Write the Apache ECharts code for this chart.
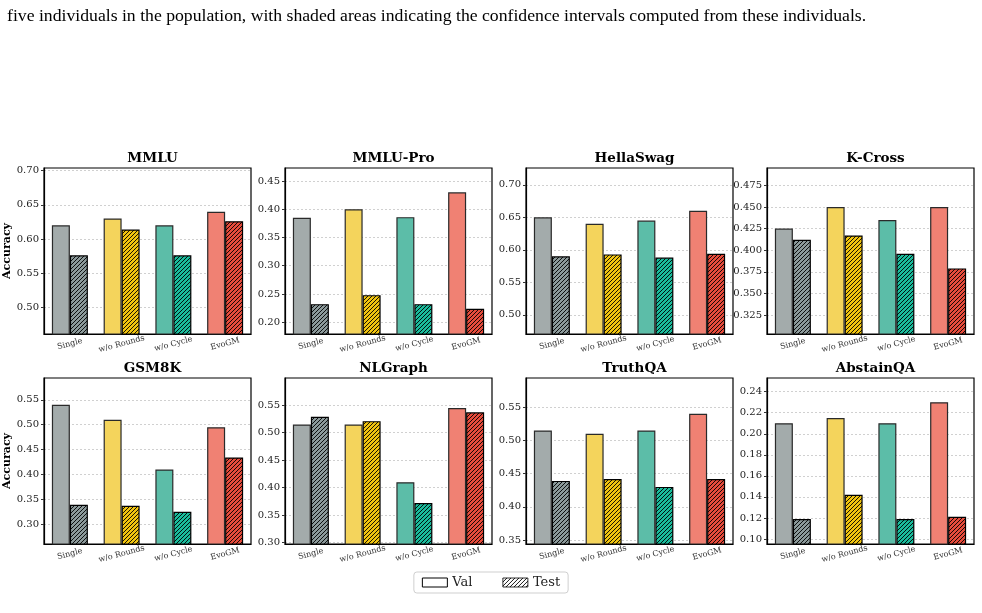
<!DOCTYPE html>
<html><head><meta charset="utf-8">
<script src="https://cdn.jsdelivr.net/npm/echarts@6/dist/echarts.min.js"></script>
<style>html,body{margin:0;padding:0;background:#fff;}#c{width:982px;height:613px;}</style>
</head><body><div id="c"></div>
<script>
const categories = ['Single', 'w/o Rounds', 'w/o Cycle', 'EvoGM'];
const datasets = ['MMLU', 'MMLU-Pro', 'HellaSwag', 'K-Cross', 'GSM8K', 'NLGraph', 'TruthQA', 'AbstainQA'];

const valMMLU = [0.620, 0.630, 0.620, 0.640];
const testMMLU = [0.576, 0.614, 0.576, 0.626];
const valMMLUPro = [0.385, 0.400, 0.386, 0.430];
const testMMLUPro = [0.232, 0.248, 0.232, 0.224];
const valHellaSwag = [0.650, 0.640, 0.645, 0.660];
const testHellaSwag = [0.590, 0.593, 0.588, 0.594];
const valKCross = [0.425, 0.450, 0.435, 0.450];
const testKCross = [0.412, 0.417, 0.396, 0.379];
const valGSM8K = [0.540, 0.510, 0.410, 0.495];
const testGSM8K = [0.339, 0.337, 0.325, 0.434];
const valNLGraph = [0.515, 0.515, 0.410, 0.545];
const testNLGraph = [0.529, 0.521, 0.372, 0.537];
const valTruthQA = [0.515, 0.510, 0.515, 0.540];
const testTruthQA = [0.439, 0.442, 0.430, 0.442];
const valAbstainQA = [0.210, 0.215, 0.210, 0.230];
const testAbstainQA = [0.119, 0.142, 0.119, 0.121];

const valSeries = [valMMLU, valMMLUPro, valHellaSwag, valKCross, valGSM8K, valNLGraph, valTruthQA, valAbstainQA];
const testSeries = [testMMLU, testMMLUPro, testHellaSwag, testKCross, testGSM8K, testNLGraph, testTruthQA, testAbstainQA];

// y tick labels per panel
const ticksMMLU = ['0.50', '0.55', '0.60', '0.65', '0.70'];
const ticksMMLUPro = ['0.20', '0.25', '0.30', '0.35', '0.40', '0.45'];
const ticksHellaSwag = ['0.50', '0.55', '0.60', '0.65', '0.70'];
const ticksKCross = ['0.325', '0.350', '0.375', '0.400', '0.425', '0.450', '0.475'];
const ticksGSM8K = ['0.30', '0.35', '0.40', '0.45', '0.50', '0.55'];
const ticksNLGraph = ['0.30', '0.35', '0.40', '0.45', '0.50', '0.55'];
const ticksTruthQA = ['0.35', '0.40', '0.45', '0.50', '0.55'];
const ticksAbstainQA = ['0.10', '0.12', '0.14', '0.16', '0.18', '0.20', '0.22', '0.24'];
const tickLabels = [ticksMMLU, ticksMMLUPro, ticksHellaSwag, ticksKCross, ticksGSM8K, ticksNLGraph, ticksTruthQA, ticksAbstainQA];

const valColors = ['#a3abab', '#f4d45c', '#5cbda8', '#f08173'];
const testColors = ['#8c9a9b', '#f1c40f', '#1abc9c', '#e74c3c'];

const caption = 'five individuals in the population, with shaded areas indicating the confidence intervals computed from these individuals.';

function hatch(base) {
  const s = 4;
  const c = document.createElement('canvas');
  c.width = s; c.height = s;
  const g = c.getContext('2d');
  g.fillStyle = base; g.fillRect(0, 0, s, s);
  g.strokeStyle = '#000'; g.lineWidth = 0.9;
  g.beginPath();
  g.moveTo(0, s); g.lineTo(s, 0);
  g.moveTo(-1, 1); g.lineTo(1, -1);
  g.moveTo(s - 1, s + 1); g.lineTo(s + 1, s - 1);
  g.stroke();
  return { image: c, repeat: 'repeat' };
}

const lefts = [44, 285, 526, 767];
const tops = [168, 378];
const W = 207, H = 166;
const FONT = 'DejaVu Serif';

const grids = [], xAxes = [], yAxes = [], series = [], titles = [];
titles.push({ text: caption, left: 2, top: 2, textStyle: { fontFamily: 'Liberation Serif', fontSize: 17.7, fontWeight: 'normal', color: '#000' } });

datasets.forEach((name, i) => {
  const col = i % 4, row = Math.floor(i / 4);
  grids.push({ left: lefts[col], top: tops[row], width: W, height: H, show: true, borderColor: '#000', borderWidth: 1.2, backgroundColor: 'transparent', containLabel: false });
  const mn = Math.min(...valSeries[i], ...testSeries[i]) * 0.8;
  const mx = Math.max(...valSeries[i], ...testSeries[i]) * 1.1;
  const tickVals = tickLabels[i].map(Number);
  const dec = tickLabels[i][0].split('.')[1].length;
  xAxes.push({
    type: 'category', gridIndex: i, data: categories,
    axisLine: { show: true, lineStyle: { color: '#000', width: 1.2 } },
    axisTick: { show: false },
    axisLabel: { interval: 0, rotate: 15, fontSize: 8, fontFamily: FONT, color: '#333', margin: 10, align: 'center', verticalAlign: 'middle' }
  });
  yAxes.push({
    type: 'value', gridIndex: i, min: mn, max: mx,
    name: col === 0 ? 'Accuracy' : '', nameLocation: 'middle', nameGap: 31,
    nameTextStyle: { fontFamily: FONT, fontWeight: 'bold', fontSize: 11, color: '#000' },
    axisLine: { show: true, lineStyle: { color: '#000', width: 1.2 } },
    axisTick: { show: true, length: 3, lineStyle: { color: '#333' }, customValues: tickVals },
    axisLabel: { customValues: tickVals, fontSize: 10, fontFamily: FONT, color: '#222', margin: 5, formatter: v => Number(v).toFixed(dec) },
    splitLine: { show: true, lineStyle: { color: '#c4c4c4', width: 0.8, type: [2, 2] } }
  });
  titles.push({ text: name, left: lefts[col] + W / 2, top: tops[row] - 22, textAlign: 'center', textStyle: { fontFamily: FONT, fontWeight: 'bold', fontSize: 13.5, color: '#000' } });
  series.push({
    name: name + ' Val', type: 'bar', xAxisIndex: i, yAxisIndex: i, barWidth: 18, barGap: '0%',
    data: valSeries[i].map((v, k) => ({ value: v, itemStyle: { color: valColors[k] } })),
    itemStyle: { borderColor: '#2a2a2a', borderWidth: 1.2 }
  });
  series.push({
    name: name + ' Test', type: 'bar', xAxisIndex: i, yAxisIndex: i, barWidth: 18, barGap: '0%',
    data: testSeries[i].map((v, k) => ({ value: v, itemStyle: { color: hatch(testColors[k]) } })),
    itemStyle: { borderColor: '#000', borderWidth: 1.2 }
  });
});

// hidden grid for legend-only series
grids.push({ left: -100, top: -100, width: 10, height: 10, show: false });
xAxes.push({ type: 'category', gridIndex: 8, show: false, data: ['a'] });
yAxes.push({ type: 'value', gridIndex: 8, show: false });
series.push({ name: 'Val', type: 'bar', xAxisIndex: 8, yAxisIndex: 8, data: [], itemStyle: { color: '#fff', borderColor: '#000', borderWidth: 1 } });
series.push({ name: 'Test', type: 'bar', xAxisIndex: 8, yAxisIndex: 8, data: [], itemStyle: { color: hatch('#fff'), borderColor: '#000', borderWidth: 1 } });

const chart = echarts.init(document.getElementById('c'), null, { renderer: 'canvas' });
chart.setOption({
  animation: false,
  backgroundColor: '#fff',
  title: titles,
  grid: grids, xAxis: xAxes, yAxis: yAxes, series: series,
  legend: {
    data: [
      { name: 'Val', icon: 'rect', itemStyle: { color: '#fff', borderColor: '#000', borderWidth: 1 } },
      { name: 'Test', icon: 'rect', itemStyle: { color: hatch('#fff'), borderColor: '#000', borderWidth: 0.8 } }
    ],
    left: 'center', top: 572, itemWidth: 25, itemHeight: 9, itemGap: 30,
    textStyle: { fontFamily: FONT, fontSize: 13, color: '#222' },
    borderColor: '#cfcfcf', borderWidth: 1, borderRadius: 3, padding: [4, 8],
    selectedMode: false
  }
});
</script></body></html>
